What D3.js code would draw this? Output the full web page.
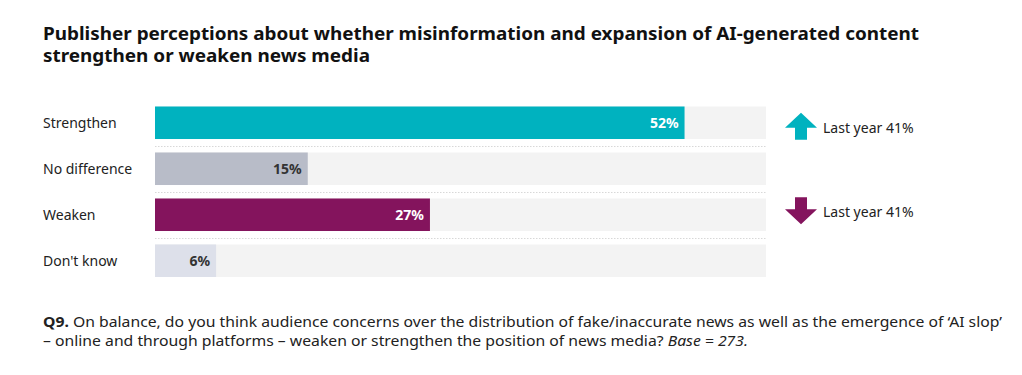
<!DOCTYPE html>
<meta charset="utf-8">
<script src="https://d3js.org/d3.v7.min.js"></script>
<style>
  body { margin: 0; background: #fff; }
  text { font-family: "Noto Sans", "Open Sans", sans-serif; }
</style>
<div id="chart"></div>
<script>

// data
const categories = ["Strengthen", "No difference", "Weaken", "Don't know"];
const values = [52, 15, 27, 6];
const barColors = ["#00b2bf", "#b8bcc8", "#84145d", "#dde0ea"];
const labelColors = ["#fff", "#333", "#fff", "#333"];
const lastYear = [
  {cat: "Strengthen", dir: "up", text: "Last year 41%"},
  {cat: "Weaken", dir: "down", text: "Last year 41%"}
];

const W = 1022, H = 375;
const svg = d3.select("#chart").append("svg")
  .attr("width", W).attr("height", H);

// title (two lines)
svg.append("text")
  .attr("x", 43).attr("y", 40)
  .attr("textLength", 876).attr("lengthAdjust", "spacingAndGlyphs")
  .style("font-size", "17.5px").style("font-weight", "700").style("fill", "#111")
  .text("Publisher perceptions about whether misinformation and expansion of AI-generated content");
svg.append("text")
  .attr("x", 43).attr("y", 62)
  .attr("textLength", 327).attr("lengthAdjust", "spacingAndGlyphs")
  .style("font-size", "17.5px").style("font-weight", "700").style("fill", "#111")
  .text("strengthen or weaken news media");

// scales
const x = d3.scaleLinear().domain([0, 60]).range([155, 766]);
const y = d3.scaleBand().domain(categories).range([106.5, 277]).paddingInner(0.293).paddingOuter(0);

const g = svg.append("g");

// background tracks
g.selectAll(".track")
  .data(categories)
  .join("rect")
    .attr("x", x(0))
    .attr("y", d => y(d))
    .attr("width", x(60) - x(0))
    .attr("height", y.bandwidth())
    .attr("fill", "#f3f3f3");

// separators
const sepY = d => Math.round(y(d) + y.bandwidth() + (y.step() - y.bandwidth()) / 2) + 0.5;
g.selectAll(".sep")
  .data(categories.slice(0, -1))
  .join("line")
    .attr("x1", x(0)).attr("x2", x(60))
    .attr("y1", sepY)
    .attr("y2", sepY)
    .attr("stroke", "#d8d8d8")
    .attr("stroke-dasharray", "1.5,1.5");

// bars
g.selectAll(".bar")
  .data(values)
  .join("rect")
    .attr("x", x(0))
    .attr("y", (d, i) => y(categories[i]))
    .attr("width", d => x(d) - x(0))
    .attr("height", y.bandwidth())
    .attr("fill", (d, i) => barColors[i]);

// value labels
g.selectAll(".val")
  .data(values)
  .join("text")
    .attr("x", d => x(d) - 6)
    .attr("y", (d, i) => y(categories[i]) + y.bandwidth() / 2 + 5)
    .attr("text-anchor", "end")
    .style("font-size", "14px").style("font-weight", "700")
    .style("fill", (d, i) => labelColors[i])
    .text(d => d + "%");

// category labels
g.selectAll(".cat")
  .data(categories)
  .join("text")
    .attr("x", 43)
    .attr("y", d => y(d) + y.bandwidth() / 2 + 5)
    .style("font-size", "14px").style("fill", "#222")
    .text(d => d);

// last year arrows
const arrows = g.selectAll(".ly")
  .data(lastYear)
  .join("g")
    .attr("transform", d => `translate(801,${y(d.cat) + y.bandwidth() / 2 + (d.dir === "up" ? 3.5 : -4)})`);
arrows.append("path")
  .attr("d", "M0,-13.5 L16,1.5 L6,1.5 L6,13.5 L-6,13.5 L-6,1.5 L-16,1.5 Z")
  .attr("transform", d => d.dir === "up" ? "" : "rotate(180)")
  .attr("fill", d => d.dir === "up" ? barColors[0] : barColors[2]);
arrows.append("text")
  .attr("x", 22).attr("y", 6.5)
  .style("font-size", "14px").style("fill", "#222")
  .text(d => d.text);

// footnote
const note = svg.append("text")
  .attr("x", 43).attr("y", 327)
  .style("font-size", "14px").style("fill", "#222");
const l1 = note.append("tspan").attr("x", 43).attr("dy", 0)
  .attr("textLength", 959).attr("lengthAdjust", "spacingAndGlyphs");
l1.append("tspan").style("font-weight", "700").text("Q9.");
l1.append("tspan").text(" On balance, do you think audience concerns over the distribution of fake/inaccurate news as well as the emergence of \u2018AI slop\u2019");
const l2 = note.append("tspan").attr("x", 43).attr("dy", 19)
  .attr("textLength", 705).attr("lengthAdjust", "spacingAndGlyphs");
l2.append("tspan").text("\u2013 online and through platforms \u2013 weaken or strengthen the position of news media? ");
l2.append("tspan").style("font-style", "italic").text("Base = 273.");

</script>
